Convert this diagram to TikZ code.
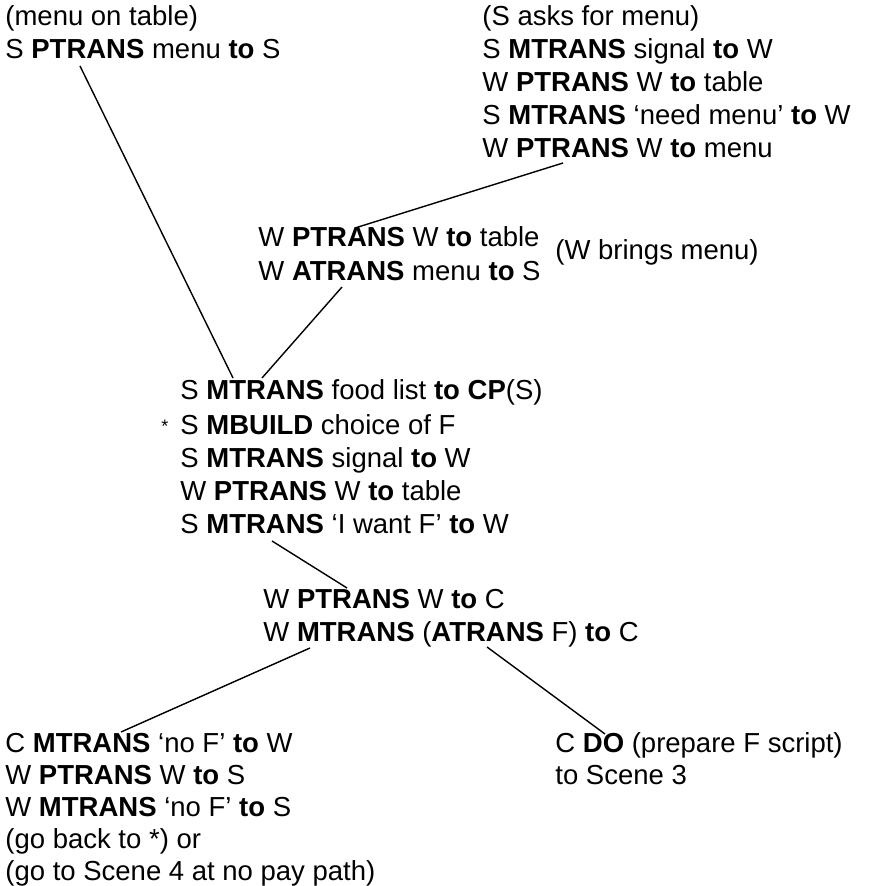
\documentclass[tikz,border=0pt]{standalone}
\usepackage{fontspec}
\setmainfont{Liberation Sans}
\usetikzlibrary{calc}

\tikzset{
  act/.style={anchor=base west, inner sep=0pt, font=\fontsize{13.75}{16.5}\selectfont},
  link/.style={line width=0.7pt}
}

\begin{document}
\begin{tikzpicture}[x=0.5pt,y=-0.5pt]
    \useasboundingbox (0,0) rectangle (878,886);
    % top left
    \node[act] (a1) at (5,26) {(menu on table)};
    \node[act] (a2) at (5,59) {S \textbf{PTRANS} menu \textbf{to} S};
    % top right
    \node[act] (b1) at (482,26) {(S asks for menu)};
    \node[act] (b2) at (482,59) {S \textbf{MTRANS} signal \textbf{to} W};
    \node[act] (b3) at (482,92) {W \textbf{PTRANS} W \textbf{to} table};
    \node[act] (b4) at (482,125) {S \textbf{MTRANS} `need menu' \textbf{to} W};
    \node[act] (b5) at (482,158) {W \textbf{PTRANS} W \textbf{to} menu};
    % W brings menu
    \node[act] (c1) at (258,247) {W \textbf{PTRANS} W \textbf{to} table};
    \node[act] (c2) at (258,281) {W \textbf{ATRANS} menu \textbf{to} S};
    \node[act] (cn) at (555,260) {(W brings menu)};
    % ordering
    \node[act] (d1) at (180,400) {S \textbf{MTRANS} food list \textbf{to} \textbf{CP}(S)};
    \node[act] (d2) at (180,434) {S \textbf{MBUILD} choice of F};
    \node[act, font=\fontsize{9}{9}\selectfont] (star) at (161,432) {*};
    \node[act] (d3) at (180,467) {S \textbf{MTRANS} signal \textbf{to} W};
    \node[act] (d4) at (180,500) {W \textbf{PTRANS} W \textbf{to} table};
    \node[act] (d5) at (180,533) {S \textbf{MTRANS} `I want F' \textbf{to} W};
    \node[act] (e1) at (263,608) {W \textbf{PTRANS} W \textbf{to} C};
    \node[act] (e2) at (263,641) {W \textbf{MTRANS} (\textbf{ATRANS} F) \textbf{to} C};
    % bottom
    \node[act] (f1) at (5,752) {C \textbf{MTRANS} `no F' \textbf{to} W};
    \node[act] (f2) at (5,784) {W \textbf{PTRANS} W \textbf{to} S};
    \node[act] (f3) at (5,816) {W \textbf{MTRANS} `no F' \textbf{to} S};
    \node[act] (f4) at (5,848) {(go back to *) or};
    \node[act] (f5) at (5,880) {(go to Scene 4 at no pay path)};
    \node[act] (g1) at (555,752) {C \textbf{DO} (prepare F script)};
    \node[act] (g2) at (555,784) {to Scene 3};

    \draw[link] ($(a2.base west)+(75,7)$) -- ($(d1.base west)+(53,-22)$);
    \draw[link] ($(c1.base west)+(97,-19)$) -- ($(b5.base west)+(81,5)$);
    \draw[link] ($(c2.base west)+(84,6)$) -- ($(d1.base west)+(82,-22)$);
    \draw[link] ($(d5.base west)+(92,8)$) -- ($(e1.base west)+(84,-20)$);
    \draw[link] ($(e2.base west)+(47,7)$) -- ($(f1.base west)+(116,-20)$);
    \draw[link] ($(e2.base west)+(224,6)$) -- ($(g1.base west)+(50,-18)$);
  \end{tikzpicture}
\end{document}
